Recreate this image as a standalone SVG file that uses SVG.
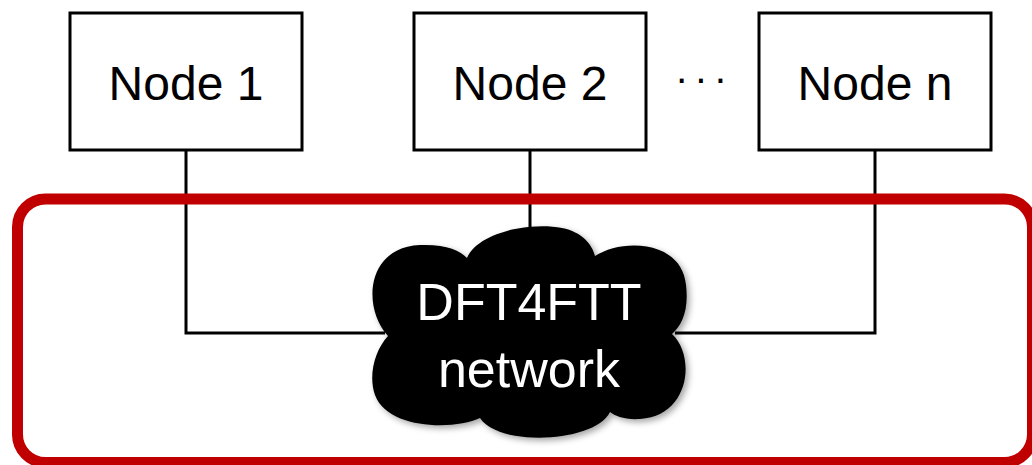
<svg xmlns="http://www.w3.org/2000/svg" width="1032" height="465" viewBox="0 0 1032 465">
  <style>
    .box { fill: #ffffff; stroke: #000000; stroke-width: 3; }
    .lbl { font-family: "Liberation Sans", Arial, sans-serif; font-size: 48px; fill: #000000; text-anchor: middle; }
    .wlbl { font-family: "Liberation Sans", Arial, sans-serif; font-size: 52px; fill: #ffffff; text-anchor: middle; }
    .conn { fill: none; stroke: #000000; stroke-width: 3; }
  </style>
  <defs>
    <filter id="shadow" x="-10%" y="-10%" width="130%" height="130%">
      <feDropShadow dx="3" dy="3" stdDeviation="3" flood-color="#000000" flood-opacity="0.35"/>
    </filter>
  </defs>
  <rect width="1032" height="465" fill="#ffffff"/>

  <g id="connectors">
    <path class="conn" d="M186,150 V333 H385"/>
    <path class="conn" d="M875,150 V333 H675"/>
    <path class="conn" d="M530,150 V235"/>
  </g>

  <g id="region">
    <rect x="17.5" y="199" width="1015" height="263.5" rx="28" ry="28" fill="none" stroke="#C00000" stroke-width="11"/>
  </g>

  <g id="node1">
    <rect class="box" x="70" y="13" width="232" height="137"/>
    <text class="lbl" x="186" y="100">Node 1</text>
  </g>

  <g id="node2">
    <rect class="box" x="414" y="13" width="232" height="137"/>
    <text class="lbl" x="530" y="100">Node 2</text>
  </g>

  <g id="dots">
    <text class="lbl" x="704" y="92" style="font-size:40px;letter-spacing:6px">···</text>
  </g>

  <g id="noden">
    <rect class="box" x="759" y="13" width="232" height="137"/>
    <text class="lbl" x="875" y="100">Node n</text>
  </g>

  <g id="cloud">
    <path filter="url(#shadow)" fill="#000000" d="M388,336 C362,308 366,247 420,245 C445,244 460,250 467,258 C478,232 530,222 562,228 C582,232 592,244 595,256 C622,238 682,240 686,285 C689,310 682,325 672,334 C696,356 690,416 640,419 C625,420 615,416 610,412 C596,442 500,448 480,418 C455,430 388,430 375,395 C368,375 375,350 388,336 Z"/>
    <text class="wlbl" x="529" y="320">DFT4FTT</text>
    <text class="wlbl" x="529" y="387">network</text>
  </g>
</svg>
